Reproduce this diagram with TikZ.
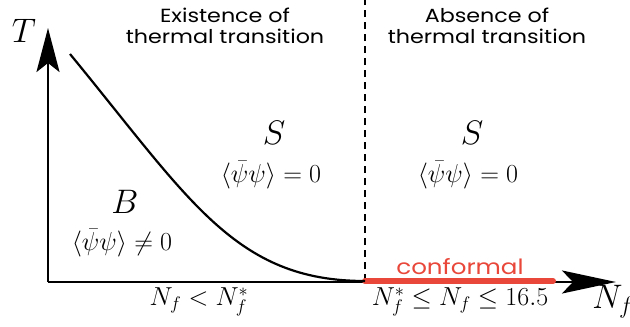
\RequirePackage{fix-cm}
\documentclass[tikz,border=0pt]{standalone}
\usepackage{fontspec}
\newfontfamily\headfont[FakeStretch=1.17]{Poppins}
\usetikzlibrary{arrows.meta}
\definecolor{confred}{HTML}{E8473A}
\tikzset{
  axis/.style={line width=2.6pt},
  head/.style={font=\headfont\fontsize{19}{21}\selectfont,align=center,inner sep=0pt},
  bigsym/.style={font=\fontsize{34}{34}\selectfont,inner sep=0pt},
  vev/.style={font=\fontsize{26}{26}\selectfont,inner sep=0pt},
  rng/.style={font=\fontsize{26}{26}\selectfont,inner sep=0pt},
}
\begin{document}
\begin{tikzpicture}[x=1pt,y=-1pt]
\useasboundingbox (0,0) rectangle (630,327);
\coordinate (O) at (48,282);
\coordinate (Ttip) at (48,28);
\coordinate (Ntip) at (616,282);
\coordinate (C0) at (70,54);
\coordinate (C1) at (365,281);
\coordinate (Dtop) at (365,0);
\coordinate (R1) at (553,281);
% dashed separator
\draw[line width=2.8pt,dash pattern=on 7.5pt off 4.5pt] (C1) -- (Dtop);
% axes
\draw[axis,-{Stealth[length=44pt,width=23pt,inset=9pt]}] (O) -- (Ttip);
\draw[axis,-{Stealth[length=54pt,width=23pt,inset=11pt]}] (O) -- (Ntip);
% red conformal segment
\draw[confred,line width=6pt,line cap=round] (C1) -- (R1);
% curve
\draw[line width=2.2pt] (C0) .. controls (190,200) and (235,281) .. (C1);
% labels
\node[bigsym] (T) at (24,31) {$T$};
\node[bigsym] (Nf) at (613,302) {$N_f$};
\node[head] (h1) at (225,26) {Existence of\\thermal transition};
\node[head] (h2) at (487,26) {Absence of\\thermal transition};
\node[bigsym] (S1) at (274,133) {$S$};
\node[vev] (v1) at (271,175) {$\langle\bar\psi\psi\rangle=0$};
\node[bigsym] (S2) at (472,133) {$S$};
\node[vev] (v2) at (468,175) {$\langle\bar\psi\psi\rangle=0$};
\node[bigsym] (B) at (125,202) {$B$};
\node[vev] (v3) at (122,243) {$\langle\bar\psi\psi\rangle\neq0$};
\node[rng] (r1) at (199,302) {$N_f<N_f^*$};
\node[rng] (r2) at (460,302) {$N_f^*\leq N_f\leq16.5$};
\node[font=\headfont\fontsize{21}{21}\selectfont,text=confred,inner sep=0pt] (cf) at (460,267) {conformal};
\end{tikzpicture}
\end{document}
